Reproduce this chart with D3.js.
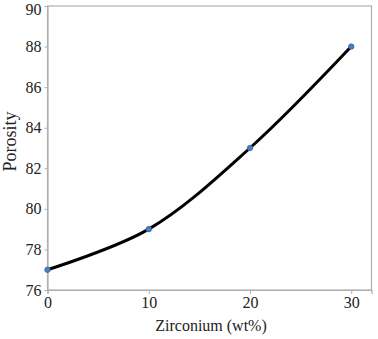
<!DOCTYPE html>
<html><head><meta charset="utf-8">
<script src="https://cdn.jsdelivr.net/npm/d3@7"></script>
<style>body{margin:0;background:#fff} svg text{font-family:"Liberation Serif","Times New Roman",Times,serif}</style>
</head><body>
<svg id="c" width="378" height="339"></svg>
<script>
const zirconium = [0, 10, 20, 30];
const porosity = [77, 79, 83, 88];
const xTicks = [0, 10, 20, 30];
const yTicks = [76, 78, 80, 82, 84, 86, 88, 90];

const svg = d3.select("#c");
const L = 47.5, R = 371.5, T = 6, B = 290;
const x = d3.scaleLinear().domain([0, 32]).range([L, R]);
const y = d3.scaleLinear().domain([76, 90]).range([B, T]);
const grey = "#b0b0b0";

svg.append("rect").attr("x", L).attr("y", T).attr("width", R - L).attr("height", B - T)
  .attr("fill", "none").attr("stroke", grey).attr("stroke-width", 1.2);

const yAxis = svg.append("g").attr("transform", `translate(${L},0)`)
  .call(d3.axisLeft(y).tickValues(yTicks).tickSize(3).tickPadding(3));
const xAxis = svg.append("g").attr("transform", `translate(0,${B})`)
  .call(d3.axisBottom(x).tickValues(xTicks).tickSize(4).tickPadding(3));
[yAxis, xAxis].forEach(a => {
  a.attr("font-family", null);
  a.select(".domain").attr("stroke", grey).attr("stroke-width", 1.2);
  a.selectAll(".tick line").attr("stroke", grey);
  a.selectAll("text").attr("font-size", 16).attr("fill", "#222");
});
yAxis.selectAll(".tick text").filter(d => d === 90).attr("dy", "0.5em");

const data = zirconium.map((d, i) => ({x: d, y: porosity[i]}));
svg.append("path").datum(data)
  .attr("d", d3.line().x(d => x(d.x)).y(d => y(d.y)).curve(d3.curveCatmullRom.alpha(0.5)))
  .attr("fill", "none").attr("stroke", "#000").attr("stroke-width", 3);

svg.selectAll("circle.pt").data(data).join("circle")
  .attr("cx", d => x(d.x)).attr("cy", d => y(d.y)).attr("r", 2.8)
  .attr("fill", "#4a7ebb").attr("stroke", "#2f5f9e").attr("stroke-width", 0.6);

svg.append("text").attr("x", 211).attr("y", 331)
  .attr("text-anchor", "middle").attr("font-size", 16).attr("fill", "#222")
  .text("Zirconium (wt%)");
svg.append("text").attr("transform", `translate(16,141.5) rotate(-90)`)
  .attr("text-anchor", "middle").attr("font-size", 18).attr("fill", "#222")
  .text("Porosity");
</script>
</body></html>
